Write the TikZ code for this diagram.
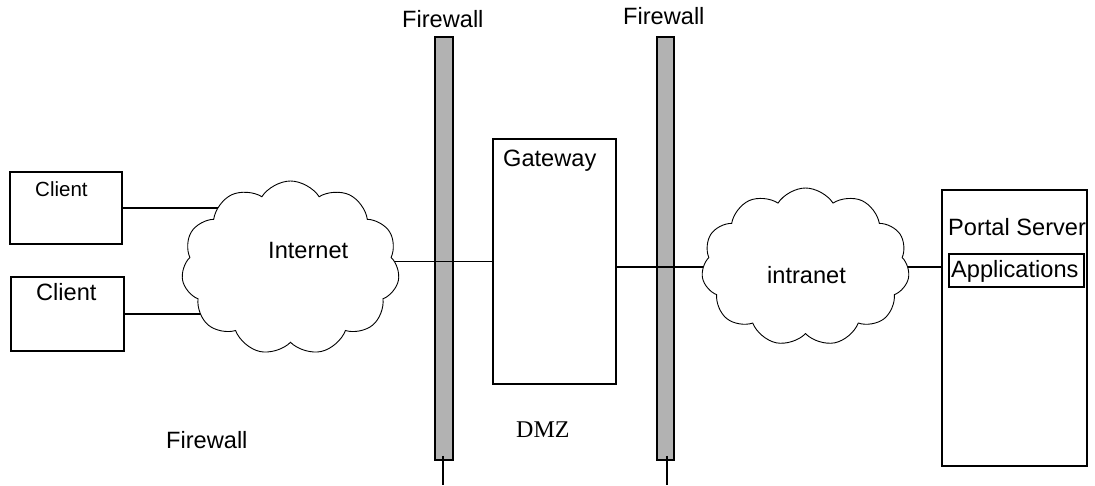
\documentclass[tikz,border=0pt]{standalone}
\usepackage{fontspec}
\setmainfont{Liberation Sans}
\newfontfamily\dmzfont{Liberation Serif}
\usetikzlibrary{shapes,arrows,backgrounds}
\tikzstyle{block} = [draw, line width=1.6pt, rectangle, inner sep=0pt]
\tikzstyle{wall} = [draw, line width=1.6pt, fill=black!30, rectangle, inner sep=0pt]
\tikzstyle{netcloud} = [draw, line width=0.9pt, fill=white, cloud, cloud puffs=11, cloud puff arc=115, cloud ignores aspect, inner sep=0pt]
\tikzstyle{line} = [draw, line width=1.6pt]
\tikzstyle{txt} = [inner sep=0pt, anchor=base west, font=\fontsize{23.6}{28}\selectfont]

\begin{document}
\begin{tikzpicture}[x=1pt, y=-1pt]
    \useasboundingbox (0,0) rectangle (1095,485);
    % Place nodes
    \node [block, minimum width=112pt, minimum height=72pt] (client1) at (66,208) {};
    \node [block, minimum width=113pt, minimum height=74pt] (client2) at (67.5,314) {};
    \node [netcloud, minimum width=218pt, minimum height=174pt] (internet) at (290.5,268) {};
    \node [block, minimum width=123pt, minimum height=245pt] (gateway) at (554.5,261.5) {};
    \node [netcloud, minimum width=208pt, minimum height=158pt] (intranet) at (805.5,267) {};
    \node [block, minimum width=145pt, minimum height=276pt] (portal) at (1014.5,328) {};
    \node [block, minimum width=135pt, minimum height=33pt] (apps) at (1016.5,270.5) {};
    \coordinate (fw1foot) at (443,485);
    \coordinate (fw2foot) at (667,485);

    % Labels
    \node [txt, font=\fontsize{20.5}{24}\selectfont] (client1txt) at (35,196) {Client};
    \node [txt] (client2txt) at (36,300) {Client};
    \node [txt] (internettxt) at (268,258) {Internet};
    \node [txt] (fw1txt) at (402,27) {Firewall};
    \node [txt] (fw2txt) at (623,24) {Firewall};
    \node [txt] (gatewaytxt) at (503,166) {Gateway};
    \node [txt, font=\fontsize{24}{28}\dmzfont] (dmztxt) at (516,437) {DMZ};
    \node [txt] (intranettxt) at (767,283) {intranet};
    \node [txt] (portaltxt) at (948,235) {Portal Server};
    \node [txt] (appstxt) at (951,277) {Applications};
    \node [txt] (fw3txt) at (166,448) {Firewall};

    % Draw walls and edges
    \begin{scope}[on background layer]
    \node [wall, minimum width=18pt, minimum height=423pt] (fw1) at (444,248.5) {};
    \node [wall, minimum width=17pt, minimum height=423pt] (fw2) at (665.5,248.5) {};
    \path [line] ([yshift=5pt]fw1.south -| fw1foot) -- (fw1foot);
    \path [line] ([yshift=5pt]fw2.south -| fw2foot) -- (fw2foot);
    \path [line] (client1.east) -- (client1.east -| internet.center);
    \path [line] (client2.east) -- (client2.east -| internet.center);
    \path [line] (gateway.west) -- (gateway.west -| internet.center);
    \path [line] (gateway.east |- intranet.center) -- (intranet.center);
    \path [line] (intranet.center) -- (intranet.center -| portal.west);
    \end{scope}
\end{tikzpicture}
\end{document}
